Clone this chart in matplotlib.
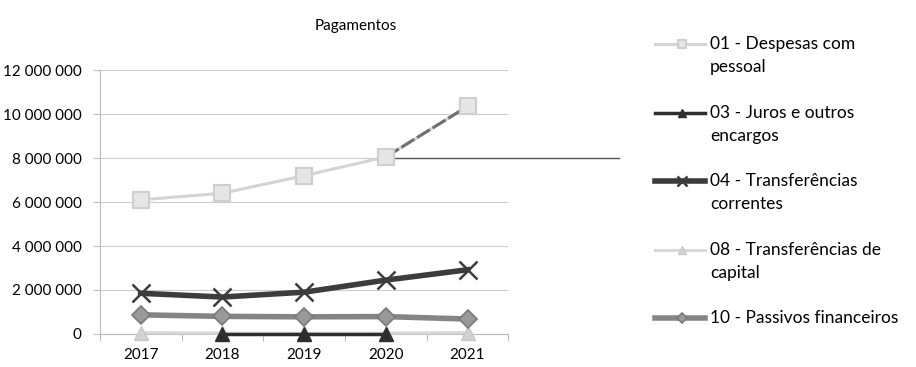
import numpy as np
import matplotlib
matplotlib.use('Agg')
import matplotlib.pyplot as plt
from matplotlib.lines import Line2D

plt.rcParams['font.family'] = ['Lato', 'DejaVu Sans']

anos = ['2017', '2018', '2019', '2020', '2021']
despesas_pessoal = [6100000, 6400000, 7200000, 8050000, 10350000]
juros = [np.nan, 0, 0, 0, np.nan]
transf_correntes = [1850000, 1680000, 1900000, 2450000, 2920000]
transf_capital = [60000, 40000, 30000, 40000, 60000]
passivos = [870000, 800000, 780000, 790000, 680000]

rotulos = ['01 - Despesas com\npessoal', '03 - Juros e outros\nencargos',
           '04 - Transferências\ncorrentes', '08 - Transferências de\ncapital',
           '10 - Passivos financeiros']

fig = plt.figure(figsize=(9.16, 3.67), dpi=100)
ax = fig.add_axes([0.109, 0.090, 0.446, 0.719])
x = np.arange(len(anos))

# estilos das series
estilos = [
    dict(color='#d4d4d4', lw=2.2, marker='s', ms=11, mfc='#e6e6e6', mec='#cfcfcf', mew=1.5),
    dict(color='#2e2e2e', lw=2.5, marker='^', ms=10, mfc='#2e2e2e', mec='#2e2e2e'),
    dict(color='#3c3c3c', lw=4, marker='x', ms=13, mec='#3c3c3c', mew=1.8),
    dict(color='#d8d8d8', lw=2.2, marker='^', ms=10, mfc='#d2d2d2', mec='#c8c8c8'),
    dict(color='#858585', lw=4, marker='D', ms=9, mfc='#999999', mec='#7a7a7a', mew=1.2),
]

ax.plot(x, transf_capital, clip_on=False, zorder=3, **estilos[3])
ax.plot(x, juros, clip_on=False, zorder=3.1, **estilos[1])
ax.plot(x, passivos, clip_on=False, zorder=3.2, **estilos[4])
ax.plot(x, transf_correntes, clip_on=False, zorder=3.3, **estilos[2])
ax.plot(x, despesas_pessoal, clip_on=False, zorder=3.4, **estilos[0])
# segmento mais escuro no ultimo ano (marca do original)
ax.plot(x[3:], despesas_pessoal[3:], color='#707070', lw=2.2, ls=(0, (5, 1)), zorder=3.5)
sem_linha = dict(estilos[0])
sem_linha['ls'] = 'none'
ax.plot(x, despesas_pessoal, clip_on=False, zorder=3.6, **sem_linha)
ax.plot([x[3], 5.85], [8000000, 8000000], color='#555555', lw=1, clip_on=False, zorder=2.8)

ax.set_xlim(-0.5, 4.5)
ax.set_ylim(0, 12000000)
ax.set_yticks(np.arange(0, 12000001, 2000000))
ax.set_yticklabels([f'{v:,}'.replace(',', ' ') for v in range(0, 12000001, 2000000)], fontsize=11)
ax.set_xticks(x)
ax.set_xticklabels(anos, fontsize=11)
ax.set_xticks(np.arange(-0.5, 4.6, 1), minor=True)
ax.tick_params(axis='x', which='major', length=0, pad=10)
ax.tick_params(axis='x', which='minor', length=5, color='#aaaaaa')
ax.tick_params(axis='y', length=5, color='#bbbbbb', pad=8)
ax.grid(axis='y', color='#cccccc', lw=0.8)
for lado in ['top', 'right']:
    ax.spines[lado].set_visible(False)
ax.spines['left'].set_color('#bbbbbb')
ax.spines['bottom'].set_color('#bbbbbb')
ax.set_axisbelow(True)

fig.text(0.388, 0.93, 'Pagamentos', ha='center', va='center', fontsize=11)

# legenda manual
ys = [44, 113, 181, 250, 318]
for st, rot, yp in zip(estilos, rotulos, ys):
    yf = 1 - yp / 367
    kw = dict(st)
    kw['ms'] = kw['ms'] * 0.55
    fig.add_artist(Line2D([0.715, 0.745, 0.770], [yf, yf, yf], markevery=[1], transform=fig.transFigure, **kw))
    for i, linha in enumerate(rot.split('\n')):
        fig.text(0.775, 1 - (yp + 23 * i) / 367, linha, ha='left', va='center', fontsize=12.5)

fig.savefig('out.png', dpi=100)
